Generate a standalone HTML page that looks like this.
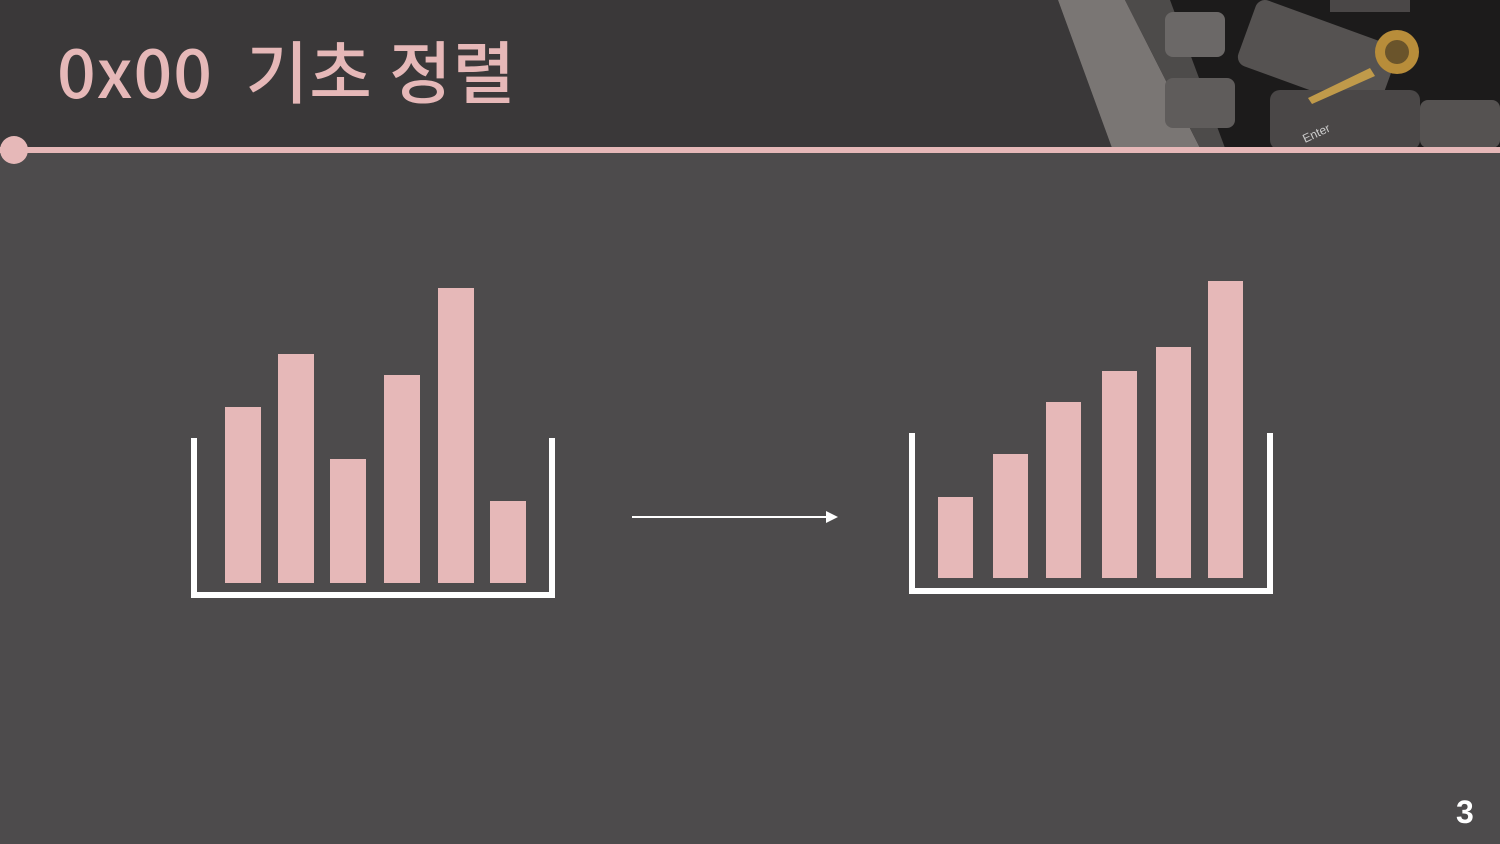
<!DOCTYPE html>
<html><head><meta charset="utf-8"><style>
html,body{margin:0;padding:0;width:1500px;height:844px;overflow:hidden;background:#4d4b4c;font-family:"Liberation Sans","Noto Sans CJK KR",sans-serif}
#hdr{position:absolute;left:0;top:0;width:1500px;height:148px;background:#3a3839}
#title{position:absolute;left:57px;top:28px;font-size:68px;color:#e6b8b8;letter-spacing:1px;font-family:"Noto Sans CJK KR","Liberation Sans",sans-serif;line-height:82px;font-weight:500}
#line{position:absolute;left:0;top:147px;width:1500px;height:6px;background:#e6b8b8}
#dot{position:absolute;left:0;top:136px;width:28px;height:28px;border-radius:50%;background:#e6b8b8}
#pg{position:absolute;left:1456px;top:794px;font-size:32px;font-weight:bold;color:#fff}
</style></head><body>
<div id="hdr"></div>
<svg style="position:absolute;left:0;top:0" width="1500" height="148">
<polygon points="1058,0 1500,0 1500,148 1112,148" fill="#1c1b1b"/>
<polygon points="1058,0 1125,0 1200,148 1112,148" fill="#7a7674"/>
<polygon points="1125,0 1170,0 1225,148 1200,148" fill="#5a5756" opacity="0.8"/>
<rect x="1165" y="12" width="60" height="45" rx="8" fill="#6b6867"/>
<rect x="1165" y="78" width="70" height="50" rx="8" fill="#5f5c5b"/>
<rect x="1240" y="15" width="150" height="70" rx="10" fill="#555251" transform="rotate(20 1300 60)"/>
<rect x="1270" y="90" width="150" height="60" rx="10" fill="#4a4747"/>
<rect x="1420" y="100" width="80" height="48" rx="8" fill="#555251"/>
<rect x="1330" y="0" width="80" height="12" fill="#4a4747"/>
<path d="M1308,98 L1370,68 L1375,76 L1312,104Z" fill="#c09a4a"/>
<circle cx="1397" cy="52" r="22" fill="#b88d3a"/>
<circle cx="1397" cy="52" r="12" fill="#1c1b1b" opacity="0.5"/>
<text x="1305" y="143" fill="#ccc" font-size="12" transform="rotate(-25 1305 143)" font-family="Liberation Sans">Enter</text>
</svg>
<div id="title">0x00&nbsp; 기초 정렬</div>
<div id="line"></div>
<div id="dot"></div>
<svg id="charts" style="position:absolute;left:0;top:0" width="1500" height="844">
<path d="M194,438 V595 H552 V438" fill="none" stroke="#fff" stroke-width="6"/>
<path d="M912,433 V591 H1270 V433" fill="none" stroke="#fff" stroke-width="6"/>
<line x1="632" y1="517" x2="828" y2="517" stroke="#fff" stroke-width="2"/>
<polygon points="826,511 838,517 826,523" fill="#fff"/>
<g id="bars"></g>
</svg>
<div id="pg">3</div>
<script>
const unsortedValues=[176,229,124,208,295,82];
const sortedValues=[81,124,176,207,231,297];
const leftBarX=[225,278,330,384,438,490];
const rightBarX=[938,993,1046,1102,1156,1208];
function yScale(v,base){return base-v;}
const g=document.getElementById('bars');
function draw(vals,xs,base,w,prefix){
 vals.forEach((v,i)=>{
  const r=document.createElementNS('http://www.w3.org/2000/svg','rect');
  r.setAttribute('x',xs[i]);r.setAttribute('y',yScale(v,base));
  r.setAttribute('width',w);r.setAttribute('height',v);
  r.setAttribute('fill','#e6b8b8');
  
  
  g.appendChild(r);
 });
}
draw(unsortedValues,leftBarX,583,36,'unsorted');
draw(sortedValues,rightBarX,578,35,'sorted');
</script>
</body></html>
